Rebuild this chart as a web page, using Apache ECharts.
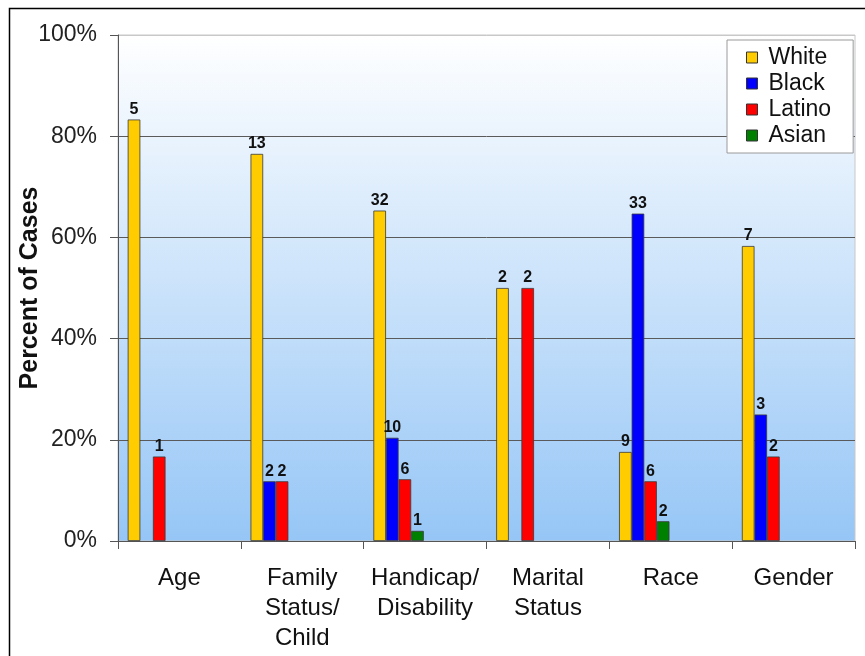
<!DOCTYPE html>
<html>
<head>
<meta charset="utf-8">
<script src="https://cdn.jsdelivr.net/npm/echarts@6/dist/echarts.min.js"></script>
<style>
  html, body { margin: 0; padding: 0; background: #fff; }
  #chart { width: 865px; height: 656px; }
</style>
</head>
<body>
<div id="chart"></div>
<script>
// categories (x axis)
var categories = ['Age', 'Family\nStatus/\nChild', 'Handicap/\nDisability', 'Marital\nStatus', 'Race', 'Gender'];
var yTicks = [0, 20, 40, 60, 80, 100];

// percent of cases per group
var whitePct  = [83.3, 76.5, 65.3, 50, 17.6, 58.3];
var blackPct  = [null, 11.8, 20.4, null, 64.7, 25];
var latinoPct = [16.7, 11.8, 12.2, 50, 11.8, 16.7];
var asianPct  = [null, null, 2.0, null, 3.9, null];

// case counts shown above the bars
var whiteN  = [5, 13, 32, 2, 9, 7];
var blackN  = [null, 2, 10, null, 33, 3];
var latinoN = [1, 2, 6, 2, 6, 2];
var asianN  = [null, null, 1, null, 2, null];

var chart = echarts.init(document.getElementById('chart'));

function barSeries(name, color, values, counts) {
    return {
        name: name,
        type: 'bar',
        barWidth: 12.6,
        barGap: '0%',
        data: values,
        itemStyle: { color: color, borderColor: '#3a3a3a', borderWidth: 0.8 },
        label: {
            show: true,
            position: 'top',
            distance: 2,
            fontFamily: 'Liberation Sans',
            fontWeight: 'bold',
            fontSize: 16,
            color: '#111',
            formatter: function (p) {
                var c = counts[p.dataIndex];
                return c == null ? '' : String(c);
            }
        }
    };
}

var option = {
    animation: false,
    graphic: [{
        type: 'rect',
        shape: { x: 9.5, y: 8.5, width: 1000, height: 1000 },
        style: { fill: 'none', stroke: '#000', lineWidth: 1.5 },
        silent: true
    }],
    grid: {
        left: 118, right: 10, top: 35, bottom: 115,
        containLabel: false,
        outerBoundsMode: 'none',
        show: true,
        borderColor: '#c8c8c8',
        borderWidth: 1,
        backgroundColor: {
            type: 'linear', x: 0, y: 0, x2: 0, y2: 1,
            colorStops: [
                { offset: 0, color: '#ffffff' },
                { offset: 1, color: '#96c6f6' }
            ]
        }
    },
    legend: {
        data: ['White', 'Black', 'Latino', 'Asian'],
        orient: 'vertical',
        left: 727,
        top: 40,
        padding: [6, 22, 6, 19],
        itemGap: 3,
        itemWidth: 11,
        itemHeight: 11,
        backgroundColor: '#fff',
        borderColor: '#9a9a9a',
        borderWidth: 1,
        icon: 'rect',
        itemStyle: { borderColor: '#333', borderWidth: 1 },
        textStyle: {
            fontFamily: 'Liberation Sans',
            fontSize: 23,
            color: '#111',
            padding: [0, 0, 0, 6]
        }
    },
    xAxis: {
        type: 'category',
        data: categories,
        axisLine: { lineStyle: { color: '#555', width: 1 } },
        axisTick: { show: true, length: 8, lineStyle: { color: '#555' } },
        axisLabel: {
            interval: 0,
            margin: 22,
            fontFamily: 'Liberation Sans',
            fontSize: 24,
            lineHeight: 30,
            color: '#111'
        }
    },
    yAxis: {
        type: 'value',
        min: yTicks[0],
        max: yTicks[yTicks.length - 1],
        interval: 20,
        name: 'Percent of Cases',
        nameLocation: 'middle',
        nameGap: 75,
        nameMoveOverlap: false,
        nameTextStyle: {
            fontFamily: 'Liberation Sans',
            fontWeight: 'bold',
            fontSize: 25,
            color: '#111'
        },
        axisLine: { show: true, lineStyle: { color: '#555', width: 1 } },
        axisTick: { show: true, length: 8, lineStyle: { color: '#555' } },
        axisLabel: {
            margin: 21,
            fontFamily: 'Liberation Sans',
            fontSize: 23,
            color: '#222',
            formatter: '{value}%'
        },
        splitLine: {
            show: true,
            lineStyle: { color: ['#5a5a5a', '#5a5a5a', '#5a5a5a', '#5a5a5a', '#5a5a5a', '#c8c8c8'], width: 1 }
        }
    },
    series: [
        barSeries('White', '#ffcc00', whitePct, whiteN),
        barSeries('Black', '#0000ff', blackPct, blackN),
        barSeries('Latino', '#ff0000', latinoPct, latinoN),
        barSeries('Asian', '#008000', asianPct, asianN),
        // empty space the original chart keeps at the right of each cluster
        { name: 'slot', type: 'bar', barWidth: 53, barGap: '0%', data: [] }
    ]
};

chart.setOption(option);
</script>
</body>
</html>
